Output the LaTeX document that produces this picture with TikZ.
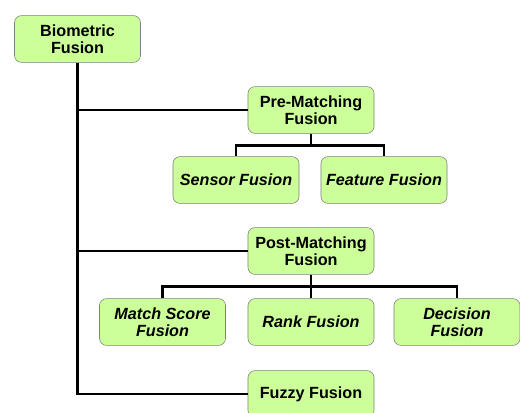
\documentclass[tikz,border=0pt]{standalone}
\usepackage{fontspec}
\setmainfont{Liberation Sans}
\usepackage{tikz}
\usetikzlibrary{calc}
\definecolor{boxgreen}{HTML}{CCFF99}
\definecolor{boxedge}{HTML}{7F7F7F}

\begin{document}
\begin{tikzpicture}[x=0.025cm, y=-0.025cm,
  block/.style={draw=boxedge, fill=boxgreen, rounded corners=5pt,
    minimum width=3.15cm, minimum height=1.17cm, align=center,
    font=\bfseries\fontsize{11.5}{11.8}\selectfont},
  leaf/.style={block, font=\bfseries\itshape\fontsize{11.5}{11.8}\selectfont},
  link/.style={line width=1.8pt, black}
]
\useasboundingbox (0,0) rectangle (520,413);

% Root
\node[block] (bio) at (77.5,39) {Biometric\\Fusion};

% Pre-matching branch
\node[block] (pre) at (311,110) {Pre-Matching\\Fusion};
\node[leaf] (sensor) at (236,180) {Sensor Fusion};
\node[leaf] (feature) at (384,180) {Feature Fusion};

% Post-matching branch
\node[block] (post) at (311,251) {Post-Matching\\Fusion};
\node[leaf] (match) at (162.5,322) {Match Score\\Fusion};
\node[leaf] (rank) at (311,322) {Rank Fusion};
\node[leaf] (decision) at (457,322) {Decision\\Fusion};

% Fuzzy
\node[block] (fuzzy) at (311,394) {Fuzzy Fusion};

% Trunk
\draw[link] (bio.south) |- (fuzzy.west);
\draw[link] (bio.south |- pre.west) -- (pre.west);
\draw[link] (bio.south |- post.west) -- (post.west);

% Sub-trees
\draw[link] (pre.south) -- ++(0,12) -| (sensor.north);
\draw[link] (pre.south) -- ++(0,12) -| (feature.north);
\draw[link] (post.south) -- ++(0,12) -| (match.north);
\draw[link] (post.south) -- (rank.north);
\draw[link] (post.south) -- ++(0,12) -| (decision.north);

\end{tikzpicture}
\end{document}
